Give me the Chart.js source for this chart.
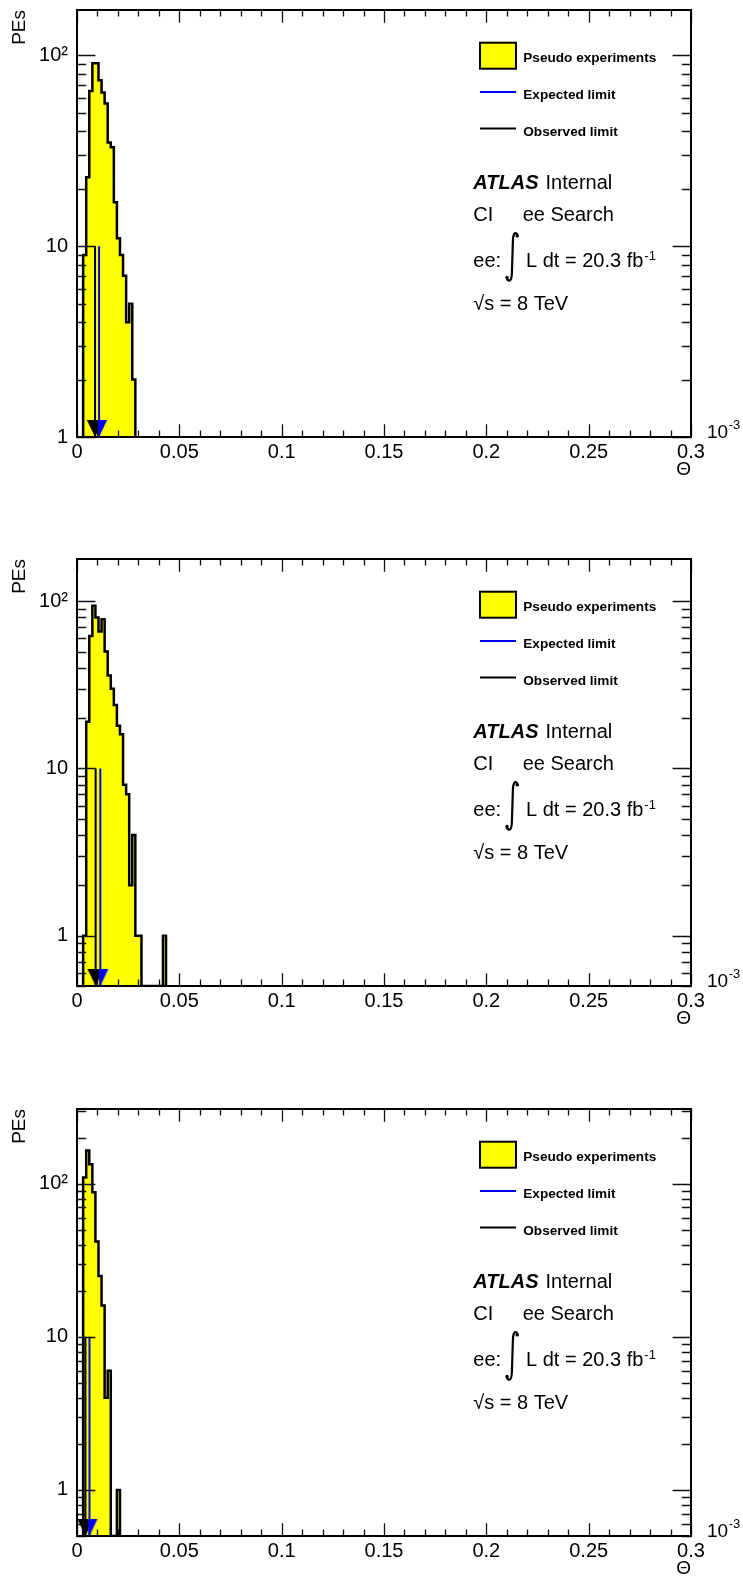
<!DOCTYPE html>
<html><head><meta charset="utf-8">
<script src="https://cdn.jsdelivr.net/npm/chart.js@4"></script>
<style>
html,body{margin:0;padding:0;background:#fff;overflow:hidden;width:743px;height:1582px;}
.pane{position:absolute;left:0;width:743px;height:483px;}
canvas{display:block;}
</style></head><body>
<div class="pane" style="top:0px"><canvas id="c1" width="743" height="483"></canvas></div>
<div class="pane" style="top:549px"><canvas id="c2" width="743" height="483"></canvas></div>
<div class="pane" style="top:1099px"><canvas id="c3" width="743" height="483"></canvas></div>
<script>
// ---------------- data ----------------
const xTickValues = [0, 0.05, 0.1, 0.15, 0.2, 0.25, 0.3];
const xTickLabels = ['0', '0.05', '0.1', '0.15', '0.2', '0.25', '0.3'];
const yTickValues = [1, 10, 100];
const yTickLabels = ['1', '10', '10\u00B2'];
const xAxisTitle = '\u0398';
const yAxisTitle = 'PEs';
const xExponentBase = '10';
const xExponentPower = '-3';

const binWidth = 0.0015;          // 200 bins on [0, 0.3]
const firstBinLowEdge = 0.003;    // first filled bin
const pe1Counts = [9, 23, 65, 91, 91, 74, 64, 56, 35, 33, 17, 11, 9, 7, 4, 5, 2];
const pe2Counts = [1, 19, 62, 94, 80, 66, 78, 50, 36, 30, 24, 18, 16, 8, 7, 2, 4, 1, 1, 0, 0, 0, 0, 0, 0, 0, 1];
const pe3Counts = [110, 165, 134, 88, 42, 25, 16, 4, 6, 0, 0, 1];

const observedLimits = [0.0088, 0.0091, 0.0041];
const expectedLimits = [0.0108, 0.0114, 0.0061];
const limitTop = 10;

const yMins = [1, 0.5, 0.5];
const yMaxs = [173, 179, 308];

const legendLabels = ['Pseudo experiments', 'Expected limit', 'Observed limit'];
const atlasLabel = 'ATLAS';
const atlasStatus = 'Internal';
const searchLabelA = 'CI';
const searchLabelB = 'ee Search';
const lumiPrefix = 'ee:';
const lumiText = 'L dt = 20.3 fb';
const lumiPower = '-1';
const energyText = '\u221As = 8 TeV';

// ---------------- setup ----------------
const FONT = "'Liberation Sans', Arial, Helvetica, sans-serif";
Chart.defaults.font.family = FONT;
Chart.defaults.color = '#000';

function headImage(kind) {
  const c = document.createElement('canvas');
  c.width = 18; c.height = 36;
  const g = c.getContext('2d');
  g.beginPath();
  if (kind === 'full') {
    g.fillStyle = '#000000';
    g.moveTo(0.8, 1); g.lineTo(17.2, 1); g.lineTo(9, 18);
  } else {
    g.fillStyle = '#0000ff';
    g.moveTo(8, 1); g.lineTo(17, 1); g.lineTo(9, 18); g.lineTo(8, 18);
  }
  g.closePath(); g.fill();
  return c;
}
const blackHead = headImage('full');
const blueHead = headImage('half');

const rootDecor = {
  id: 'rootDecor',
  afterDatasetsDraw(chart) {
    const {ctx, chartArea: a, scales: {x, y}} = chart;
    ctx.save();
    ctx.strokeStyle = '#111'; ctx.lineWidth = 1.3;
    const xMaj = 0.03 * (a.bottom - a.top), xMin = xMaj / 2;
    const yMaj = 0.03 * (a.right - a.left), yMin = yMaj / 2;
    ctx.beginPath();
    for (let k = 0; k <= 30; k++) {
      const px = Math.round(x.getPixelForValue(k * 0.01)) + 0.5;
      const len = (k % 5 === 0) ? xMaj : xMin;
      ctx.moveTo(px, a.bottom); ctx.lineTo(px, a.bottom - len);
      ctx.moveTo(px, a.top); ctx.lineTo(px, a.top + len);
    }
    const lo = Math.floor(Math.log10(y.min)), hi = Math.ceil(Math.log10(y.max));
    for (let d = lo; d <= hi; d++) {
      for (let m = 1; m <= 9; m++) {
        const v = m * Math.pow(10, d);
        if (v < y.min * 0.9999 || v > y.max * 1.0001) continue;
        const py = Math.round(y.getPixelForValue(v)) + 0.5;
        const len = (m === 1) ? yMaj : yMin;
        ctx.moveTo(a.left, py); ctx.lineTo(a.left + len, py);
        ctx.moveTo(a.right, py); ctx.lineTo(a.right - len, py);
      }
    }
    ctx.stroke();
    ctx.strokeStyle = '#000';
    ctx.lineWidth = 2;
    ctx.strokeRect(a.left, a.top, a.right - a.left, a.bottom - a.top);
    ctx.restore();
  },
  afterDraw(chart) {
    const {ctx, chartArea: a} = chart;
    const T = a.top;
    const ds = chart.data.datasets;
    ctx.save();
    ctx.fillStyle = '#000';
    ctx.textBaseline = 'alphabetic';
    // axis exponent 10^-3
    ctx.font = '19px ' + FONT;
    ctx.fillText(xExponentBase, 707, a.bottom + 0.5);
    const w10 = ctx.measureText(xExponentBase).width;
    ctx.font = '13px ' + FONT;
    ctx.fillText(xExponentPower, 707 + w10 + 0.5, a.bottom - 8);

    // legend
    ctx.fillStyle = ds[2].backgroundColor;
    ctx.fillRect(480, T + 32.7, 36, 26);
    ctx.lineWidth = 2; ctx.strokeStyle = '#000';
    ctx.strokeRect(480, T + 32.7, 36, 26);
    ctx.strokeStyle = ds[0].borderColor;
    ctx.beginPath(); ctx.moveTo(480, T + 82); ctx.lineTo(516, T + 82); ctx.stroke();
    ctx.strokeStyle = ds[1].borderColor;
    ctx.beginPath(); ctx.moveTo(480, T + 118.4); ctx.lineTo(516, T + 118.4); ctx.stroke();
    ctx.fillStyle = '#000';
    ctx.textBaseline = 'middle';
    ctx.font = 'bold 13.6px ' + FONT;
    ctx.fillText(ds[2].label, 523.3, T + 48.7);
    ctx.fillText(ds[0].label, 523.3, T + 85.4);
    ctx.fillText(ds[1].label, 523.3, T + 122);

    // ATLAS Internal
    ctx.font = 'italic bold 20px ' + FONT;
    ctx.fillText(atlasLabel, 473.3, T + 173.4);
    const wA = ctx.measureText(atlasLabel + ' ').width;
    ctx.font = '20px ' + FONT;
    ctx.fillText(atlasStatus, 473.3 + wA + 1.5, T + 173.4);
    // CI ee Search
    ctx.fillText(searchLabelA, 473.3, T + 205.4);
    ctx.fillText(searchLabelB, 522.7, T + 205.4);
    // lumi
    ctx.fillText(lumiPrefix, 473.3, T + 251);
    ctx.fillText(lumiText, 526, T + 251);
    const wL = ctx.measureText(lumiText).width;
    ctx.font = '13px ' + FONT;
    ctx.fillText(lumiPower, 526 + wL + 1, T + 246.2);
    // integral sign
    const yT = T + 222.7, yB = T + 270.7;
    ctx.strokeStyle = '#000'; ctx.lineWidth = 2.2; ctx.lineCap = 'round';
    ctx.beginPath();
    ctx.moveTo(517.6, yT + 3);
    ctx.quadraticCurveTo(517, yT, 514.8, yT + 0.6);
    ctx.quadraticCurveTo(513.1, yT + 2.5, 512.9, yT + 8);
    ctx.lineTo(511.9, yB - 8);
    ctx.quadraticCurveTo(511.7, yB - 0.8, 509.6, yB);
    ctx.quadraticCurveTo(507.3, yB, 506.7, yB - 3);
    ctx.stroke();
    ctx.beginPath(); ctx.arc(517.2, yT + 3.2, 1.7, 0, Math.PI * 2); ctx.fill();
    ctx.beginPath(); ctx.arc(507.1, yB - 3.2, 1.7, 0, Math.PI * 2); ctx.fill();
    // sqrt(s)
    ctx.font = '20px ' + FONT;
    ctx.fillText(energyText, 473.3, T + 294.4);
    ctx.restore();
  }
};

function histPoints(counts, yMin) {
  const pts = [{x: firstBinLowEdge, y: yMin}];
  counts.forEach((c, i) => pts.push({x: firstBinLowEdge + i * binWidth, y: Math.max(c, yMin)}));
  pts.push({x: firstBinLowEdge + counts.length * binWidth, y: yMin});
  return pts;
}

function makeChart(id, counts, idx) {
  const yMin = yMins[idx], yMax = yMaxs[idx];
  const obs = observedLimits[idx], exp = expectedLimits[idx];
  return new Chart(document.getElementById(id), {
    type: 'line',
    data: {
      datasets: [
        {
          label: legendLabels[1],
          data: [{x: exp, y: limitTop}, {x: exp, y: yMin}],
          borderColor: '#0000ff', borderWidth: 2, fill: false,
          pointStyle: blueHead,
          pointRadius: c => c.dataIndex === 1 ? 8 : 0,
          pointHoverRadius: 0
        },
        {
          label: legendLabels[2],
          data: [{x: obs, y: limitTop}, {x: obs, y: yMin}],
          borderColor: '#000000', borderWidth: 2, fill: false,
          pointStyle: blackHead,
          pointRadius: c => c.dataIndex === 1 ? 8 : 0,
          pointHoverRadius: 0
        },
        {
          label: legendLabels[0],
          data: histPoints(counts, yMin),
          stepped: true,
          borderColor: '#000000', borderWidth: 2.5,
          backgroundColor: '#ffff00',
          fill: 'start',
          pointRadius: 0, tension: 0,
          borderJoinStyle: 'miter'
        }
      ]
    },
    options: {
      responsive: false,
      animation: false,
      devicePixelRatio: 1,
      events: [],
      layout: {padding: {top: 7, right: 52, left: 0, bottom: 0}},
      plugins: {legend: {display: false}, tooltip: {enabled: false}},
      scales: {
        x: {
          type: 'linear', min: 0, max: 0.3,
          afterBuildTicks: s => { s.ticks = xTickValues.map(v => ({value: v})); },
          afterFit: s => { s.height = 46; s.paddingLeft = 0; s.paddingRight = 0; },
          ticks: {
            autoSkip: false, maxRotation: 0, minRotation: 0, padding: 3.2,
            font: {size: 20}, color: '#000',
            callback: (v) => { const i = xTickValues.indexOf(v); return i >= 0 ? xTickLabels[i] : ''; }
          },
          grid: {display: true, drawOnChartArea: false, drawTicks: false},
          border: {display: true, color: '#000', width: 2, z: 1},
          title: {display: true, text: xAxisTitle, align: 'end', font: {size: 19}, color: '#000', padding: {top: 0, bottom: 1.6}}
        },
        y: {
          type: 'logarithmic', min: yMin, max: yMax,
          afterBuildTicks: s => { s.ticks = yTickValues.filter(v => v >= yMin && v <= yMax).map(v => ({value: v})); },
          afterFit: s => { s.width = 77; s.paddingTop = 0; s.paddingBottom = 0; },
          ticks: {
            autoSkip: false, padding: 9, font: {size: 20}, color: '#000',
            callback: (v) => { const i = yTickValues.indexOf(v); return i >= 0 ? yTickLabels[i] : ''; }
          },
          grid: {display: true, drawOnChartArea: false, drawTicks: false},
          border: {display: true, color: '#000', width: 2, z: 1},
          title: {display: true, text: yAxisTitle, align: 'end', font: {size: 19}, color: '#000', padding: {top: 8.6, bottom: 0}}
        }
      }
    },
    plugins: [rootDecor]
  });
}

makeChart('c1', pe1Counts, 0);
makeChart('c2', pe2Counts, 1);
makeChart('c3', pe3Counts, 2);
</script>
</body></html>
